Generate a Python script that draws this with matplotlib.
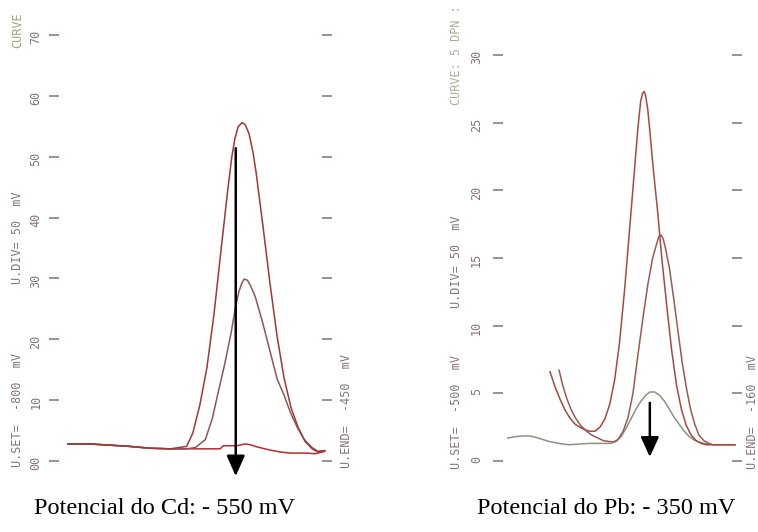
import matplotlib
matplotlib.use("Agg")
import matplotlib.pyplot as plt

# ---------------- data: Cd panel (potential in mV, current in arbitrary units) ----------------
cd_big_x = [-782, -754, -728, -703, -677, -651, -630, -622, -613, -604, -595, -586, -577, -572,
            -568, -564, -559, -555, -550, -545, -541, -532, -523, -514, -505, -496, -487, -478,
            -469, -462, -453]
cd_big_y = [2.8, 2.8, 2.6, 2.4, 2.1, 2.0, 2.4, 4.6, 9.2, 15.3, 24.0, 34.5, 44.8, 50.0,
            53.0, 54.9, 55.6, 55.3, 53.8, 50.8, 47.5, 38.5, 29.1, 20.5, 13.6, 8.7, 5.5, 3.2,
            2.0, 1.5, 1.7]

cd_mid_x = [-782, -754, -728, -703, -677, -651, -630, -619, -606, -597, -590, -581, -573, -567,
            -563, -559, -556, -552, -548, -542, -533, -523, -514, -505, -497, -488, -479, -470,
            -462, -453]
cd_mid_y = [2.8, 2.8, 2.6, 2.4, 2.1, 2.0, 2.0, 2.2, 3.5, 7.0, 11.0, 16.0, 21.0, 25.5,
            27.8, 29.3, 29.9, 29.7, 28.8, 27.0, 23.0, 18.0, 13.5, 10.8, 8.0, 5.5, 3.5, 2.3,
            1.6, 1.7]

cd_small_x = [-782, -754, -728, -703, -677, -651, -630, -613, -587, -583, -566, -555, -549,
              -542, -533, -523, -511, -497, -477, -465, -455, -453]
cd_small_y = [2.8, 2.8, 2.6, 2.4, 2.1, 2.0, 2.0, 2.0, 2.0, 2.5, 2.5, 2.8, 2.7,
              2.4, 2.1, 1.8, 1.5, 1.3, 1.3, 1.2, 1.5, 1.6]

cd_ticks = [0, 10, 20, 30, 40, 50, 60, 70]
cd_ticklabels = ["00", "10", "20", "30", "40", "50", "60", "70"]
cd_arrow = (-567, 51.4, -567, -2.5)   # x_from, y_from, x_to, y_to

# ---------------- data: Pb panel ----------------
pb_big_x = [-426, -419, -412, -405, -398, -390, -380, -370, -362, -355, -348, -341, -334, -327,
            -320, -313, -306, -301, -297, -294, -292, -290, -287, -284, -279, -273, -267, -260,
            -253, -246, -239, -232, -225, -218, -211, -204, -194, -163]
pb_big_y = [6.6, 5.5, 4.6, 3.8, 3.2, 2.7, 2.4, 2.2, 2.2, 2.5, 3.1, 4.2, 6.0, 8.8,
            12.6, 17.0, 21.4, 24.6, 26.6, 27.2, 27.3, 27.0, 26.0, 24.4, 21.5, 18.5, 15.0, 11.5,
            8.2, 5.6, 3.8, 2.6, 1.9, 1.5, 1.3, 1.2, 1.2, 1.2]

pb_mid_x = [-413, -408, -402, -396, -390, -382, -374, -366, -358, -350, -343, -336, -329, -322,
            -315, -308, -301, -294, -287, -280, -274, -271, -268, -265, -262, -256, -250, -244,
            -238, -232, -226, -220, -214, -207, -200, -194, -163]
pb_mid_y = [6.7, 5.6, 4.6, 3.8, 3.2, 2.6, 2.2, 1.9, 1.7, 1.5, 1.45, 1.4, 1.6, 2.2,
            3.2, 5.0, 7.8, 10.5, 13.0, 15.0, 16.1, 16.6, 16.7, 16.4, 15.8, 14.2, 12.0, 9.6,
            7.3, 5.4, 3.8, 2.7, 1.9, 1.5, 1.3, 1.2, 1.2]

pb_small_x = [-486, -475, -465, -455, -446, -437, -428, -418, -408, -398, -385, -370, -355, -340,
              -332, -325, -318, -311, -304, -297, -290, -284, -277, -270, -263, -256, -249, -242,
              -235, -228, -221, -214, -207, -200]
pb_small_y = [1.7, 1.8, 1.85, 1.85, 1.75, 1.6, 1.45, 1.35, 1.25, 1.2, 1.25, 1.3, 1.3, 1.3,
              1.45, 1.8, 2.4, 3.1, 3.8, 4.4, 4.85, 5.1, 5.1, 4.85, 4.4, 3.8, 3.2, 2.7,
              2.2, 1.8, 1.55, 1.4, 1.3, 1.25]

pb_ticks = [0, 5, 10, 15, 20, 25, 30]
pb_ticklabels = ["0", "5", "10", "15", "20", "25", "30"]
pb_arrow = (-284, 4.3, -284, 0.3)

captions = ["Potencial do Cd: - 550 mV", "Potencial do Pb: - 350 mV"]

# ---------------- figure ----------------
W, H = 758, 532
fig = plt.figure(figsize=(W / 100, H / 100), dpi=100)

def fx(px):
    return px / W

def fy(py):
    return 1 - py / H

TXT = "#857578"
TICKC = "#7f7375"
MONO = "DejaVu Sans Mono"


def style_axes(ax, ticks, labels, pad):
    for s in ax.spines.values():
        s.set_visible(False)
    ax.set_xticks([])
    ax.set_yticks(ticks)
    ax.set_yticklabels(labels, fontfamily=MONO, fontsize=8.5, color=TXT)
    ax.tick_params(axis="y", which="both", direction="inout", length=7.5, width=1.1,
                   color=TICKC, left=True, right=True, labelleft=True, labelright=False,
                   labelrotation=90, pad=pad)
    ax.patch.set_alpha(0)


# Cd panel
ax1 = fig.add_axes([fx(54), fy(461), fx(327) - fx(54), fy(35) - fy(461)])
ax1.plot(cd_small_x, cd_small_y, color="#b52d2d", lw=1.1)
ax1.plot(cd_mid_x, cd_mid_y, color="#8e5656", lw=1.1)
ax1.plot(cd_big_x, cd_big_y, color="#9c3838", lw=1.1)
ax1.set_xlim(-800, -450)
ax1.set_ylim(0, 70)
style_axes(ax1, cd_ticks, cd_ticklabels, 4.5)
ax1.annotate("", xy=(cd_arrow[2], cd_arrow[3]), xytext=(cd_arrow[0], cd_arrow[1]),
             xycoords="data", annotation_clip=False,
             arrowprops=dict(arrowstyle="-|>,head_length=1.25,head_width=0.55",
                             color="black", lw=1.8, shrinkA=0, shrinkB=0))

# Pb panel
ax2 = fig.add_axes([fx(498), fy(461), fx(737) - fx(498), fy(55) - fy(461)])
ax2.plot(pb_small_x, pb_small_y, color="#8c9384", lw=1.1)
ax2.plot(pb_mid_x, pb_mid_y, color="#9a5a50", lw=1.1)
ax2.plot(pb_big_x, pb_big_y, color="#a34a44", lw=1.1)
ax2.set_xlim(-500, -160)
ax2.set_ylim(0, 30)
style_axes(ax2, pb_ticks, pb_ticklabels, 7)
ax2.annotate("", xy=(pb_arrow[2], pb_arrow[3]), xytext=(pb_arrow[0], pb_arrow[1]),
             xycoords="data", annotation_clip=False,
             arrowprops=dict(arrowstyle="-|>,head_length=1.2,head_width=0.55",
                             color="black", lw=1.8, shrinkA=0, shrinkB=0))

# instrument annotations (rotated)
def vtext(px, py, s, color=TXT):
    fig.text(fx(px), fy(py), s, rotation=90, ha="center", va="center",
             fontfamily=MONO, fontsize=8.5, color=color)

vtext(18, 410, "U.SET=  -800  mV")
vtext(18, 238, "U.DIV= 50  mV")
vtext(18, 30, "CURVE", color="#a6a27a")
vtext(347, 411, "U.END=  -450  mV")

vtext(456, 412, "U.SET=  -500  mV")
vtext(456, 262, "U.DIV= 50  mV")
vtext(456, 55, "CURVE: 5 DPN :", color="#b3ad9a")
vtext(752, 412, "U.END=  -160  mV")

# captions
fig.text(fx(165), fy(508), captions[0], ha="center", va="center",
         fontfamily="Liberation Serif", fontsize=17.5, color="black")
fig.text(fx(606), fy(508), captions[1], ha="center", va="center",
         fontfamily="Liberation Serif", fontsize=17.5, color="black")

fig.savefig("out.png", dpi=100, facecolor="white")
